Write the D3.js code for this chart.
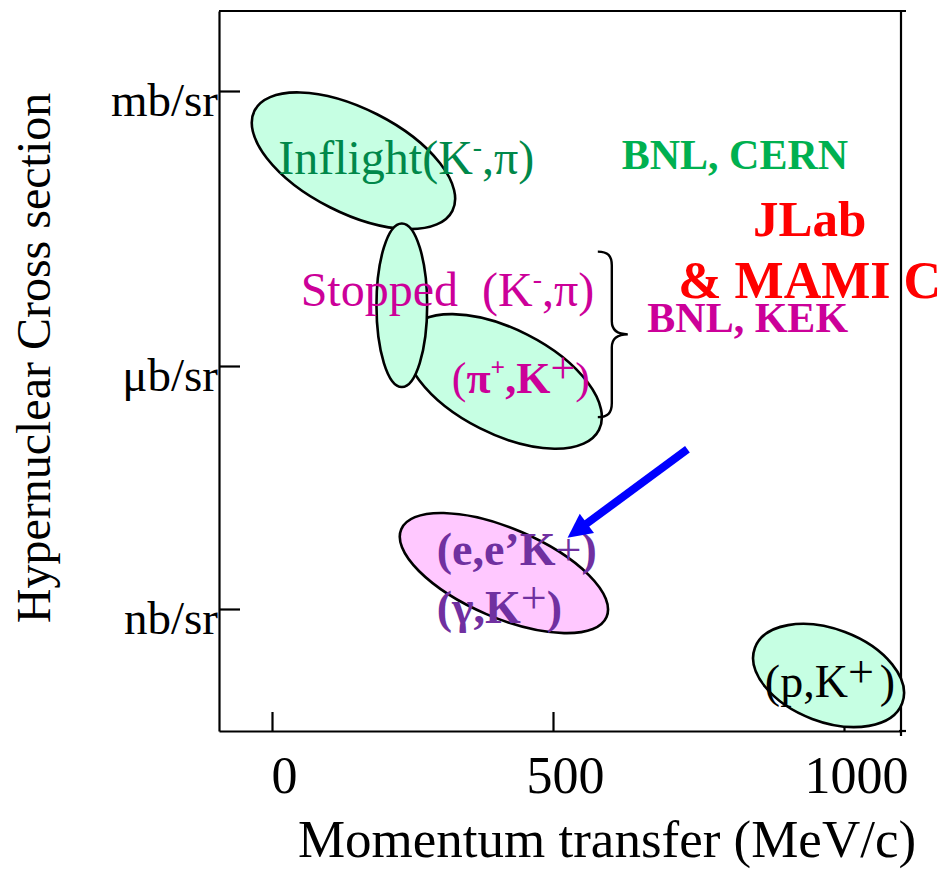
<!DOCTYPE html>
<html><head><meta charset="utf-8">
<script src="https://cdn.jsdelivr.net/npm/d3@7"></script>
<style>
body{margin:0;background:#fff}
svg{display:block}
text{font-family:"Liberation Serif","Times New Roman",serif}
</style>
</head><body>
<svg id="c" width="952" height="872"></svg>
<script>
// ---------------- data ----------------
const xTicks = [0, 500, 1000];
const xTickLabels = ["0", "500", "1000"];
const yTicks = [1, 1e3, 1e6];                 // cross section in nb/sr
const yTickLabels = ["nb/sr", "\u03bcb/sr", "mb/sr"];
const xTitle = "Momentum transfer (MeV/c)";
const yTitle = "Hypernuclear Cross section";

// reaction regions: ends of the major axis (momentum transfer MeV/c, cross section nb/sr)
const regionNames = ["Inflight(K-,pi)", "(pi+,K+)", "Stopped (K-,pi)", "(e,e'K+)/(gamma,K+)", "(p,K+)"];
const regionQ0 = [-31, 242, 231, 230, 847];
const regionS0 = [6.1e5, 2.29e3, 3.59e4, 9.68, 0.333];
const regionQ1 = [321, 579, 231, 592, 1100];
const regionS1 = [4.93e4, 163, 551, 0.798, 0.0686];
const regionAspect = [0.47, 0.49, 0.31, 0.40, 0.59];

// text annotations anchored at (momentum transfer, cross section)
const labelQ = [11, 51, 320, 293, 293, 864, 1007, 941, 941, 1007];
const labelS = [1.23e5, 4.46e3, 464, 3.49, 0.671, 0.082, 1.40e5, 2.65e4, 5.55e3, 2.37e3];
const labelParts = [
  [["Inflight(K"], ["-", "sup"], [",\u03c0)"]],
  [["Stopped\u00a0 (K"], ["-", "sup"], [",\u03c0)"]],
  [["(", "reg"], ["\u03c0"], ["+", "sup"], [",K"], ["+", "big"], [")", "reg"]],
  [["(e,e\u2019K"], ["+", "reg"], [")"]],
  [["(\u03b3,K"], ["+", "bigreg"], [")"]],
  [["(p,K"], ["+", "big"], [")", "gap"]],
  [["BNL, CERN"]],
  [["JLab"]],
  [["& MAMI C"]],
  [["BNL, KEK"]]
];
// arrow (tail -> head) and brace span
const arrowQ = [731, 525], arrowS = [93.7, 7.59];
const braceQ = 577, braceS = [1.77e4, 234];

// ---------------- drawing ----------------
const L = 219, R = 901, T = 11, B = 731;
const x = d3.scaleLinear().domain([-94, 0, 500, 1000, 1098]).range([L, 272, 553, 844, R]);
const y = d3.scaleLog().domain([0.0312, 1, 1e3, 1e6, 7.7e6]).range([B, 609, 366, 91, T]);

const svg = d3.select("#c");

// axes
const gx = svg.append("g").attr("transform", `translate(0,${B})`)
  .call(d3.axisBottom(x).tickValues(xTicks).tickFormat((d, i) => xTickLabels[i])
        .tickSizeInner(-19).tickSizeOuter(0).tickPadding(0));
gx.selectAll("text").attr("font-size", 52).attr("font-family", "Liberation Serif")
  .attr("fill", "#000").attr("dy", 62).attr("dx", 12);
const gy = svg.append("g").attr("transform", `translate(${L},0)`)
  .call(d3.axisLeft(y).tickValues(yTicks).tickFormat((d, i) => yTickLabels[i])
        .tickSizeInner(-21).tickSizeOuter(0).tickPadding(1));
gy.selectAll("text").attr("font-size", 47).attr("font-family", "Liberation Serif")
  .attr("fill", "#000").attr("dy", 24);
svg.selectAll(".domain, .tick line").attr("stroke", "#000").attr("stroke-width", 2.2);

// remaining frame
const frame = svg.append("g").attr("stroke", "#000").attr("stroke-width", 2.2);
frame.append("line").attr("x1", L).attr("x2", R + 5).attr("y1", T).attr("y2", T);
frame.append("line").attr("x1", R).attr("x2", R).attr("y1", T).attr("y2", B + 5);
frame.append("line").attr("x1", R - 2).attr("x2", R + 5).attr("y1", B).attr("y2", B);

// axis titles
svg.append("text").attr("x", 607).attr("y", 857).attr("text-anchor", "middle")
  .attr("font-size", 53).text(xTitle);
svg.append("text").attr("transform", "translate(50,358) rotate(-90)")
  .attr("text-anchor", "middle").attr("font-size", 48).text(yTitle);

// regions
const fills = ["#c6ffe3", "#c6ffe3", "#c6ffe3", "#ffc8ff", "#c6ffe3"];
const drawOrder = [0, 1, 2, 3, 4];
drawOrder.forEach(i => {
  const x0 = x(regionQ0[i]), y0 = y(regionS0[i]);
  const x1 = x(regionQ1[i]), y1 = y(regionS1[i]);
  const cx = (x0 + x1) / 2, cy = (y0 + y1) / 2;
  const a = Math.hypot(x1 - x0, y1 - y0) / 2;
  const ang = Math.atan2(y1 - y0, x1 - x0) * 180 / Math.PI;
  svg.append("ellipse").attr("class", "region").attr("data-name", regionNames[i])
    .attr("cx", cx).attr("cy", cy).attr("rx", a).attr("ry", a * regionAspect[i])
    .attr("transform", `rotate(${ang},${cx},${cy})`)
    .attr("fill", fills[i]).attr("stroke", "#000").attr("stroke-width", 2.6);
});

// brace
{
  const xe = x(braceQ), yt = y(braceS[0]), yb = y(braceS[1]);
  const xb = xe + 14, xt = xe + 30, ym = (yt + yb) / 2;
  const p = `M${xe},${yt} C${xe + 10},${yt} ${xb},${yt + 4} ${xb},${yt + 14} L${xb},${ym - 13}
    C${xb},${ym - 4} ${xb + 6},${ym} ${xt},${ym} C${xb + 6},${ym} ${xb},${ym + 4} ${xb},${ym + 13}
    L${xb},${yb - 14} C${xb},${yb - 4} ${xe + 10},${yb} ${xe},${yb}`;
  svg.append("path").attr("d", p).attr("fill", "none").attr("stroke", "#000").attr("stroke-width", 2.4);
}

// labels
const labelStyle = [
  {c: "#00884a", s: 48, w: "normal", a: "start"},
  {c: "#cc0099", s: 48, w: "normal", a: "start"},
  {c: "#cc0099", s: 44, w: "bold", a: "start"},
  {c: "#7030a0", s: 46, w: "bold", a: "start"},
  {c: "#7030a0", s: 46, w: "bold", a: "start"},
  {c: "#000000", s: 46, w: "normal", a: "start"},
  {c: "#00b050", s: 42, w: "bold", a: "end"},
  {c: "#ff0000", s: 51, w: "bold", a: "middle"},
  {c: "#ff0000", s: 52, w: "bold", a: "middle"},
  {c: "#cc0099", s: 42, w: "bold", a: "end"}
];
labelParts.forEach((parts, i) => {
  const st = labelStyle[i];
  const t = svg.append("text").attr("x", x(labelQ[i])).attr("y", y(labelS[i]))
    .attr("fill", st.c).attr("font-size", st.s).attr("font-weight", st.w)
    .attr("text-anchor", st.a);
  let shift = 0;
  parts.forEach(([txt, kind]) => {
    const sp = t.append("tspan").text(txt);
    let target = 0;
    if (kind === "sup") { sp.attr("font-size", st.s * 0.58); target = -st.s * 0.38; }
    if (kind === "big") { sp.attr("font-weight", "normal"); target = -st.s * 0.22; }
    if (kind === "bigreg") { sp.attr("font-weight", "normal"); target = -st.s * 0.22; }
    if (kind === "reg") { sp.attr("font-weight", "normal"); }
    if (kind === "gap") { sp.attr("dx", 6); }
    if (target !== shift) { sp.attr("dy", target - shift); shift = target; }
  });
});

// arrow
{
  const x0 = x(arrowQ[0]), y0 = y(arrowS[0]), x1 = x(arrowQ[1]), y1 = y(arrowS[1]);
  const len = Math.hypot(x1 - x0, y1 - y0), ux = (x1 - x0) / len, uy = (y1 - y0) / len;
  const hl = 24, hw = 12;
  const bx = x1 - ux * hl, by = y1 - uy * hl;
  svg.append("line").attr("x1", x0).attr("y1", y0).attr("x2", bx + ux * 2).attr("y2", by + uy * 2)
    .attr("stroke", "#0000ff").attr("stroke-width", 8);
  svg.append("path").attr("d", `M${x1},${y1} L${bx - uy * hw},${by + ux * hw} L${bx + uy * hw},${by - ux * hw} Z`)
    .attr("fill", "#0000ff");
}
</script>
</body></html>
